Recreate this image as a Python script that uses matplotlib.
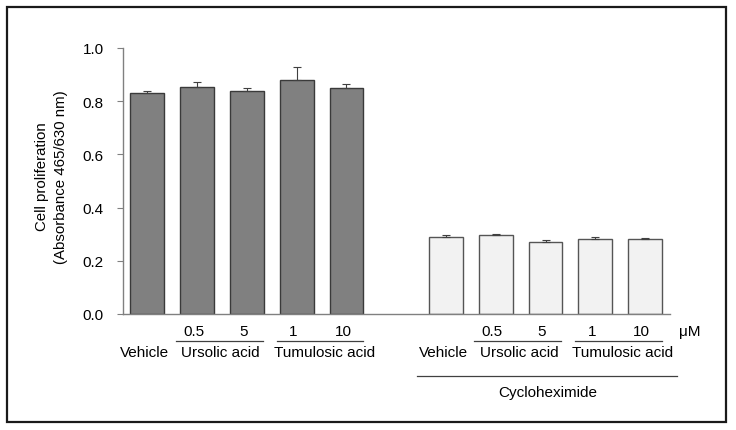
import matplotlib
matplotlib.use("Agg")
import matplotlib.pyplot as plt
from matplotlib.patches import Rectangle

plt.rcParams['font.family'] = ['Liberation Sans', 'DejaVu Sans']

positions = [0, 1, 2, 3, 4, 6, 7, 8, 9, 10]
values_ctrl = [0.831, 0.852, 0.837, 0.881, 0.850]
err_ctrl = [0.009, 0.019, 0.011, 0.046, 0.013]
values_chx = [0.288, 0.296, 0.270, 0.283, 0.282]
err_chx = [0.008, 0.006, 0.007, 0.008, 0.003]
conc_labels = ["0.5", "5", "1", "10"]
group_labels = ["Vehicle", "Ursolic acid", "Tumulosic acid"]
yticks = [0.0, 0.2, 0.4, 0.6, 0.8, 1.0]

fig = plt.figure(figsize=(7.36, 4.31), dpi=100)
ax = fig.add_axes([123/736, 116/431, 547/736, 266/431])

pos_ctrl = positions[:5]
pos_chx = positions[5:]
w = 0.68
ax.bar(pos_ctrl, values_ctrl, width=w, color='#808080', edgecolor='#3a3a3a', linewidth=1.0,
       yerr=[[0]*5, err_ctrl], error_kw=dict(ecolor='#404040', elinewidth=0.8, capsize=3, capthick=0.8))
ax.bar(pos_chx, values_chx, width=w, color='#f2f2f2', edgecolor='#555555', linewidth=1.0,
       yerr=[[0]*5, err_chx], error_kw=dict(ecolor='#404040', elinewidth=0.8, capsize=3, capthick=0.8))

ax.set_xlim(-0.49, 10.5)
ax.set_ylim(0, 1.0)
ax.set_yticks(yticks)
ax.set_yticklabels([f"{t:.1f}" for t in yticks], fontsize=11)
ax.set_xticks([])
for s in ['top', 'right']:
    ax.spines[s].set_visible(False)
for s in ['left', 'bottom']:
    ax.spines[s].set_color('#808080')
    ax.spines[s].set_linewidth(1.0)
ax.tick_params(axis='y', direction='out', length=4, color='#808080', pad=10)
ax.set_ylabel("Cell proliferation\n(Absorbance 465/630 nm)", fontsize=10.8, linespacing=1.45)
ax.yaxis.set_label_coords(-0.1, 0.52)

tr = ax.get_xaxis_transform()
fs = 11
y_conc = -0.064
y_line = -0.1015
y_name = -0.141

for off in [0, 6]:
    for i, lab in enumerate(conc_labels):
        ax.text(off + 1 + i - 0.07, y_conc, lab, transform=tr, ha='center', va='center', fontsize=fs)
    ax.text(off - 0.05, y_name, group_labels[0], transform=tr, ha='center', va='center', fontsize=fs)
    ax.plot([off + 0.57, off + 2.32], [y_line, y_line], transform=tr, color='#404040', lw=0.9, clip_on=False)
    ax.plot([off + 2.6, off + 4.33], [y_line, y_line], transform=tr, color='#404040', lw=0.9, clip_on=False)
    ax.text(off + 1.47, y_name, group_labels[1], transform=tr, ha='center', va='center', fontsize=fs)
    ax.text(off + 3.55, y_name, group_labels[2], transform=tr, ha='center', va='center', fontsize=fs)

ax.text(10.68, y_conc, "μM", transform=tr, ha='left', va='center', fontsize=fs)
ax.plot([5.41, 10.65], [-0.233, -0.233], transform=tr, color='#404040', lw=0.9, clip_on=False)
ax.text(8.05, -0.293, "Cycloheximide", transform=tr, ha='center', va='center', fontsize=fs)

fig.patches.append(Rectangle((7/736, 8/431), 719/736, 415/431, transform=fig.transFigure,
                             fill=False, edgecolor='#1a1a1a', linewidth=1.6))

fig.savefig("out.png", dpi=100)
